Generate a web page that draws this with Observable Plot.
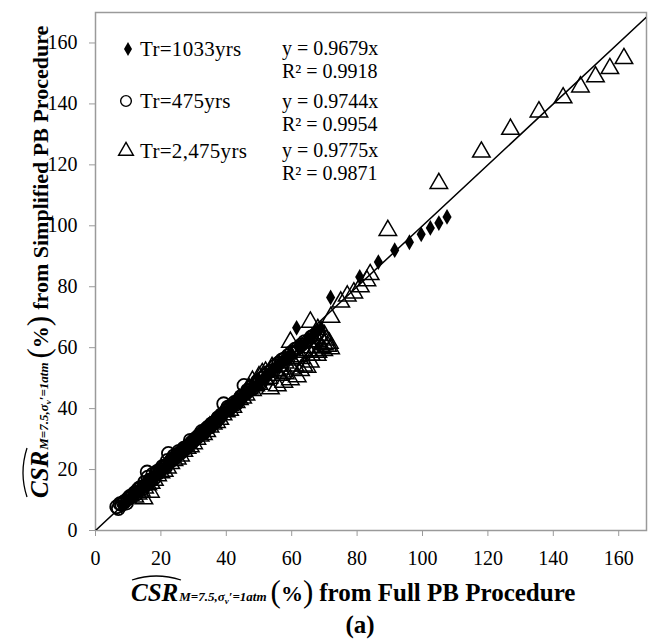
<!DOCTYPE html>
<html><head><meta charset="utf-8">
<script src="https://cdn.jsdelivr.net/npm/d3@7"></script>
<script src="https://cdn.jsdelivr.net/npm/@observablehq/plot@0.6"></script>
<style>body{margin:0;background:#fff}svg{display:block}</style>
</head><body><div id="chart"></div>
<script>
// Tick values
const xTicks = [0, 20, 40, 60, 80, 100, 120, 140, 160];
const yTicks = [0, 20, 40, 60, 80, 100, 120, 140, 160];

// Series labels and fit text
const seriesLabels = ["Tr=1033yrs", "Tr=475yrs", "Tr=2,475yrs"];
const fitEquations = ["y = 0.9679x", "y = 0.9744x", "y = 0.9775x"];
const fitR2 = ["R² = 0.9918", "R² = 0.9954", "R² = 0.9871"];

// Tr=475yrs (open circles)
const tr475X = [6.5, 7, 7.5, 8, 8.5, 9, 9.5, 10, 10.5, 11, 11.5, 12, 12.5, 13, 13.5, 14, 14.5, 15, 15.5, 15.8, 16, 16.5, 17, 17.5, 18, 18.5, 19, 19.5, 20, 20.5, 21, 21.5, 22, 22.3, 23, 23.5, 24, 24.5, 25, 25.5, 26, 26.5, 27, 27.5, 28, 28.5, 29, 29.5, 30, 30.5, 31, 31.5, 32, 32.5, 33, 33.5, 34, 34.5, 35, 35.5, 36, 36.5, 37, 37.5, 38, 38.5, 39.2, 40, 40.5, 41, 41.5, 42, 42.5, 43, 43.5, 44, 44.5, 45.4, 46, 46.5, 47, 47.5, 48, 49, 49.5, 50, 51, 52, 53, 54, 55, 56, 57, 58, 59, 60, 61, 62, 63, 64, 66, 68];
const tr475Y = [7.8, 7.2, 8.8, 8.5, 9.2, 9.6, 9, 10.5, 11.2, 11, 11.8, 12.4, 12, 13.5, 14, 14.2, 13.8, 15.8, 15, 19.2, 17.5, 16.5, 16.5, 18.5, 17.2, 18.8, 19.5, 19, 20, 21, 21, 20.8, 23, 25.3, 22.8, 23.5, 24.5, 24, 25, 26, 25.5, 26.2, 27, 26.8, 27.5, 28, 29.6, 29, 29.5, 30, 30.5, 31, 31.5, 32.5, 32, 32.8, 33.5, 34, 34, 35, 35.2, 35.5, 36, 37, 37.2, 38, 41.6, 39.5, 40.5, 40, 41, 41, 42, 41.5, 42.5, 43, 44, 47.6, 45, 46, 46, 47, 46.5, 48, 49, 48.5, 50, 51, 52, 52.5, 54, 55, 56, 56.5, 57.5, 58.5, 59.5, 60, 61, 62, 63.5, 65];

// Tr=2,475yrs (open triangles)
const tr2475X = [12, 13, 14, 14.8, 15, 16, 16.8, 17, 18, 19, 20, 21, 22, 23, 24, 25, 26, 27, 28, 29, 30, 31, 32, 33, 34, 35, 36, 37, 38, 39, 40, 41, 42, 43, 44, 45, 46, 47, 48, 48, 49, 50, 50, 51, 52, 52, 53, 53.5, 54, 55, 55.6, 56, 56, 57, 57.6, 58, 58, 59.6, 59.6, 60, 60, 61, 61.7, 62, 62.7, 63, 63.7, 64, 64.7, 65, 65.7, 65.7, 66, 66, 67, 67, 67.8, 68, 68, 68, 69, 69, 69.8, 70, 70, 70.5, 71, 71.5, 71.9, 72, 75, 77, 79, 81, 83, 84, 89.4, 105, 118, 126.9, 135.6, 143, 148.3, 152.9, 157.3, 161.6];
const tr2475Y = [11, 12, 13, 10.4, 14, 15, 12.6, 15.5, 16.5, 18, 19, 19.5, 20.5, 22, 23, 23.5, 24.5, 26, 27, 27.5, 28.5, 30, 31, 31.5, 32.5, 34, 35, 35.5, 36.5, 38, 39, 39.5, 40.5, 42, 43, 43.5, 44.5, 46.5, 49, 46, 47.5, 48, 50.5, 51.5, 49.5, 52, 50, 46.5, 53.5, 52.5, 47.5, 51, 54, 52, 48.7, 55, 51.5, 49.5, 61.8, 53, 56, 54, 50.5, 57, 52.5, 56.5, 54, 58.5, 53.6, 59, 55.3, 68.4, 60, 57.5, 62, 59, 57.5, 58.5, 66, 62, 60, 63, 59.1, 61, 64, 62.5, 60.5, 61.5, 59.7, 70, 75, 77, 78, 80, 82, 84, 98.5, 113.9, 124.2, 131.7, 137.4, 142, 145.6, 148.9, 151.6, 154.9];

// Tr=1033yrs (filled diamonds)
const tr1033X = [8, 9, 10, 11, 12, 13, 14, 15, 16, 17, 18, 19, 20, 21, 22, 23, 24, 25, 26, 27, 28, 29, 30, 31, 32, 33, 34, 35, 36, 37, 38, 39, 40, 41, 42, 43, 44, 45, 46, 47, 48, 49, 50, 51, 52, 53, 54, 55, 56, 57, 58, 59, 60, 61.5, 62, 63, 64, 65, 66, 67, 68, 69, 71.9, 80.8, 86.5, 91.5, 96, 99.6, 102.4, 105, 107.5];
const tr1033Y = [8, 9, 9.8, 10.8, 11.5, 12.6, 13.8, 14.5, 15.5, 16.6, 17.5, 18.5, 19.4, 20.4, 21.5, 22.3, 23.2, 24.3, 25.4, 26.2, 27, 28.1, 29.2, 30, 31, 32, 33, 33.8, 35, 35.8, 36.8, 37.8, 39, 39.6, 40.5, 41.6, 42.8, 43.5, 44.5, 45.6, 46.8, 47.4, 48.5, 49.4, 50.2, 51.3, 52.5, 53.2, 54, 55.2, 56.2, 57.1, 58, 66.5, 60, 60.8, 61.5, 62.8, 63.5, 64.8, 65.5, 66.5, 76.5, 83.2, 88.1, 92, 94.6, 97.2, 99.3, 100.9, 102.9];

// 1:1 reference line ends
const refLineX = [0, 170];
const refLineY = [0, 170];

const zip = (xs, ys) => xs.map((x, i) => ({x, y: ys[i]}));
const d475 = zip(tr475X, tr475Y);
const d2475 = zip(tr2475X, tr2475Y);
const d1033 = zip(tr1033X, tr1033Y);
const refLine = zip(refLineX, refLineY);

const FONT = "'Liberation Serif', 'Times New Roman', serif";
const AX = "#9a9a9a";

const chart = Plot.plot({
  width: 648, height: 639,
  marginLeft: 95, marginRight: 2, marginTop: 12, marginBottom: 109,
  style: {fontFamily: FONT, fontSize: "20px", color: "black", background: "white"},
  x: {domain: [0, 168.5]},
  y: {domain: [0, 170]},
  marks: [
    Plot.frame({stroke: AX, strokeWidth: 1.5}),
    Plot.axisX({ticks: xTicks, tickSize: 6, tickPadding: 14, stroke: AX, fill: "black", label: null, tickFormat: d => d}),
    Plot.axisY({ticks: yTicks, tickSize: 6, tickPadding: 12, stroke: AX, fill: "black", label: null, tickFormat: d => d}),
    Plot.line(refLine, {x: "x", y: "y", stroke: "black", strokeWidth: 1.5, clip: true}),
    Plot.dot(d475, {x: "x", y: "y", symbol: "circle", r: 6.5, fill: "none", stroke: "black", strokeWidth: 1.8}),
    Plot.dot(d2475, {x: "x", y: "y", symbol: "triangle", r: 6.5, fill: "none", stroke: "black", strokeWidth: 1.5}),
    Plot.dot(d1033, {x: "x", y: "y", symbol: "diamond", r: 4.8, fill: "black", stroke: "none"})
  ]
});
document.getElementById("chart").appendChild(chart);

const svg = d3.select(chart);
const g = svg.append("g").attr("font-family", FONT).attr("fill", "black").attr("text-anchor", "start");

// Legend
const legSyms = [
  {sym: d3.symbolDiamond, size: 55, fill: "black", stroke: "none", cx: 128, cy: 49},
  {sym: d3.symbolCircle, size: 90, fill: "none", stroke: "black", cx: 126, cy: 101},
  {sym: d3.symbolTriangle, size: 95, fill: "none", stroke: "black", cx: 126, cy: 151}
];
legSyms.forEach((s, i) => {
  g.append("path").attr("d", d3.symbol(s.sym, s.size)())
    .attr("transform", `translate(${s.cx},${s.cy})`)
    .attr("fill", s.fill).attr("stroke", s.stroke).attr("stroke-width", 1.4);
  g.append("text").attr("x", 140).attr("y", s.cy + 7).attr("font-size", 21).attr("letter-spacing", 0.3).text(seriesLabels[i]);
});
const eqY = [48, 101, 150];
fitEquations.forEach((t, i) => {
  g.append("text").attr("x", 282).attr("y", eqY[i] + 7).attr("font-size", 20).text(t);
  g.append("text").attr("x", 282).attr("y", eqY[i] + 30).attr("font-size", 20).text(fitR2[i]);
});

// Axis title builder
function axisTitle(parent, tail, tailSize) {
  const t = parent.append("text").attr("font-weight", "bold").attr("text-anchor", "start");
  t.append("tspan").attr("font-style", "italic").attr("font-size", 25).text("CSR");
  t.append("tspan").attr("font-style", "italic").attr("font-size", 13).attr("dx", 1).text("M=7.5,σ");
  t.append("tspan").attr("font-style", "italic").attr("font-size", 9).attr("dy", 3).text("v");
  t.append("tspan").attr("font-style", "italic").attr("font-size", 13).attr("dy", -3).text("′=1atm");
  t.append("tspan").attr("font-weight", "normal").attr("font-size", 31).attr("dx", 4).attr("dy", 1).text("(");
  t.append("tspan").attr("font-size", 22).attr("dy", -1).text("%");
  t.append("tspan").attr("font-weight", "normal").attr("font-size", 31).attr("dy", 1).text(")");
  t.append("tspan").attr("font-size", tailSize).attr("dx", 6).attr("dy", -1).text(tail);
  // hat over CSR
  parent.append("path").attr("d", "M1,-21 Q25,-29 50,-21").attr("fill", "none").attr("stroke", "black").attr("stroke-width", 1.3);
}

const xt = g.append("g").attr("transform", "translate(131,601)");
axisTitle(xt, "from Full PB Procedure", 25);
const yt = g.append("g").attr("transform", "translate(48,498) rotate(-90)");
axisTitle(yt, "from Simplified PB Procedure", 22);

g.append("text").attr("x", 360).attr("y", 633).attr("text-anchor", "middle")
  .attr("font-size", 25).attr("font-weight", "bold").text("(a)");
</script>
</body></html>
